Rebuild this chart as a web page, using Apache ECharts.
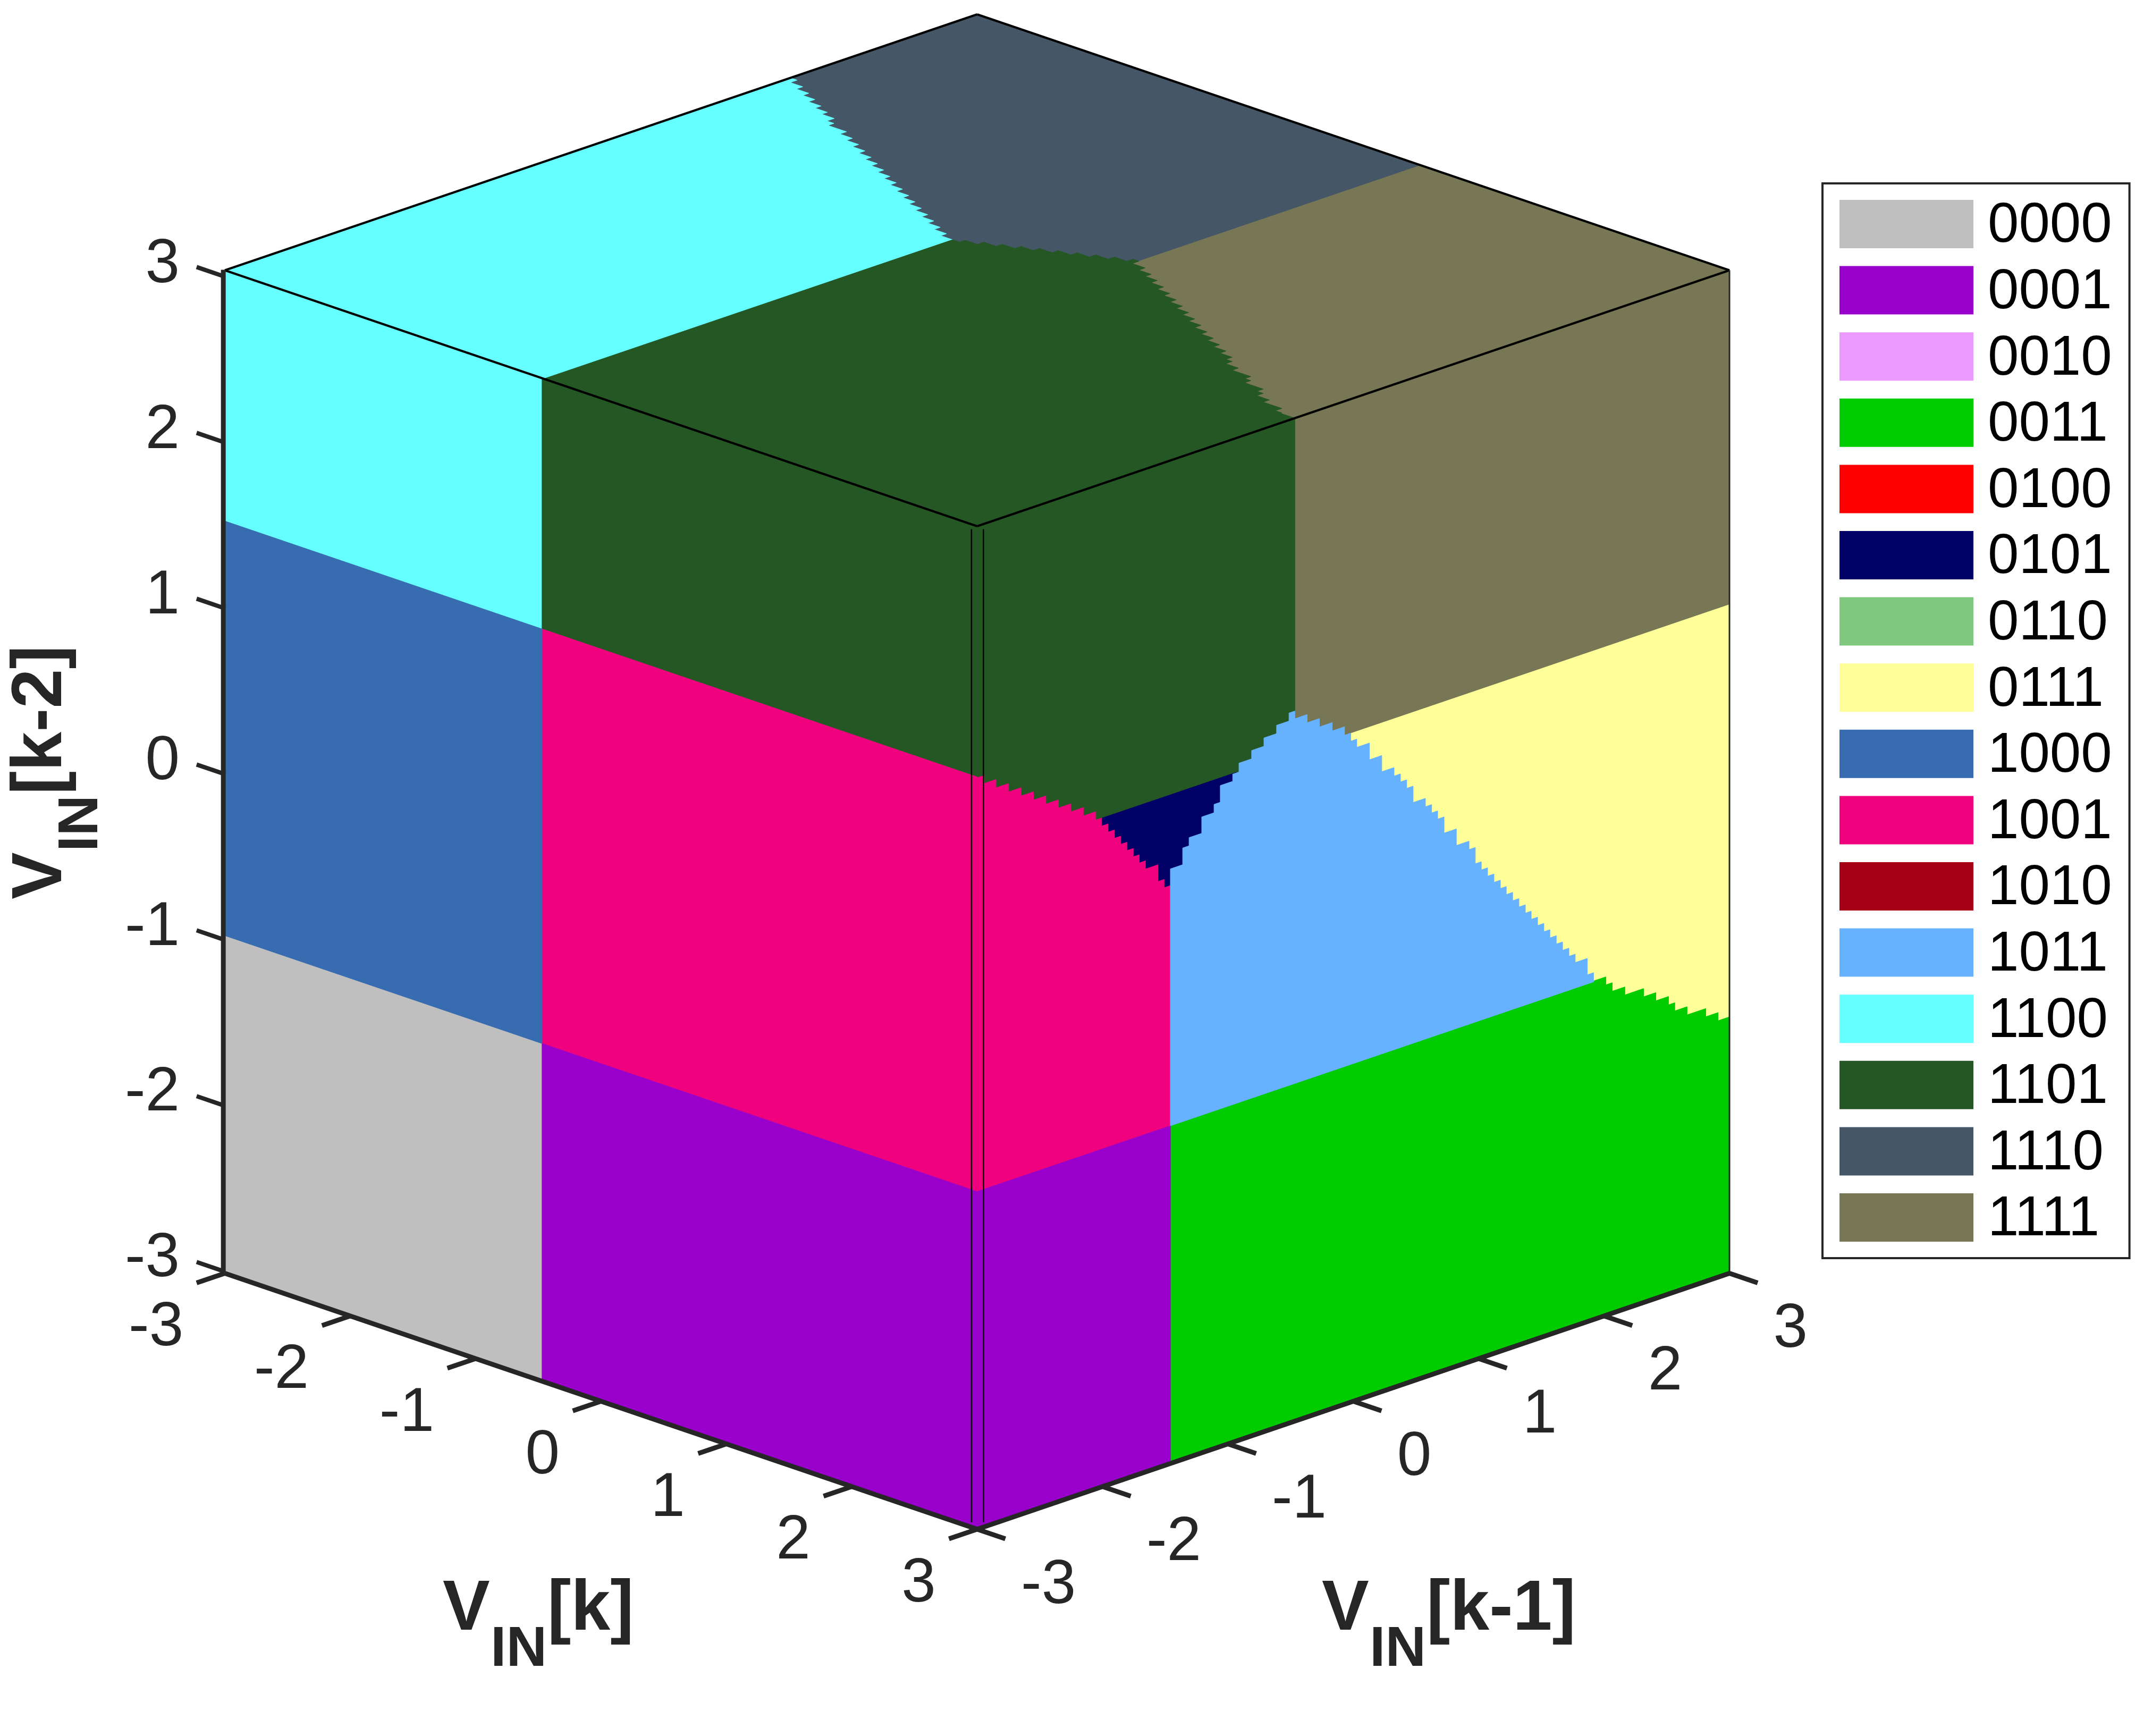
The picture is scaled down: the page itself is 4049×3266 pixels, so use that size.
<!DOCTYPE html>
<html>
<head>
<meta charset="utf-8">
<style>html,body{margin:0;padding:0;background:#fff}#c{width:4049px;height:3266px}</style>
<script src="https://cdn.jsdelivr.net/npm/echarts@6/dist/echarts.min.js"></script>
</head>
<body>
<div id="c"></div>
<script>
// ---------- data ----------
const categories = ['0000','0001','0010','0011','0100','0101','0110','0111','1000','1001','1010','1011','1100','1101','1110','1111'];
const palette = ['#BFBFBF','#9900CC','#EB99FF','#00CC00','#FF0000','#000066','#7FC97F','#FFFF99','#386CB0','#F0027F','#A60014','#66B2FF','#66FFFF','#255725','#455666','#777755'];
const kTicks = [-3,-2,-1,0,1,2,3];
const k1Ticks = [-3,-2,-1,0,1,2,3];
const k2Ticks = [-3,-2,-1,0,1,2,3];

// thresholds read from the faces
const leftSplitK = -0.47;          // V[k] split on the left face
const k2High = 1.5, k2Low = -0.98; // V[k-2] bands
const rightSplitK1 = -1.459;       // V[k-1] split low on the right face
const greenOliveK1 = -0.466;       // dark green / olive on the right face
const yellowStartK1 = -0.02;
const upperK2 = 1.0;               // olive/yellow and dark green/navy
const navyLeft = -2.007, navyRight = -0.93, navyBottom = 0.4;
const slateOliveK = 0.539, cyanGreenK = -0.456;

// right face staircases: [V[k-1] column start, V[k-2] level]
const pinkStairs = [[-3,1.495],[-2.944,1.447],[-2.85,1.397],[-2.749,1.347],[-2.65,1.297],[-2.551,1.247],[-2.452,1.198],[-2.352,1.149],[-2.253,1.101],[-2.153,1.051],[-2.054,1.001],[-2.007,.953],[-1.957,.904],[-1.906,.854],[-1.856,.805],[-1.806,.755],[-1.755,.705],[-1.707,.656],[-1.658,.607],[-1.559,.507],[-1.509,.457]];
const blueStairs = [[-1.459,.557],[-1.361,.657],[-1.31,.706],[-1.209,.804],[-1.111,.854],[-1.061,.954],[-.962,.997],[-.912,1.05],[-.811,1.1],[-.713,1.15],[-.612,1.2],[-.513,1.248],[-.466,1.202],[-.368,1.153],[-.27,1.103],[-.168,1.053],[-.07,1.002],[-.02,.954],[.028,.905],[.129,.805],[.227,.708],[.325,.657],[.376,.609],[.426,.558],[.477,.46],[.575,.41],[.625,.36],[.673,.311],[.724,.214],[.822,.115],[.923,.065],[.973,-.033],[1.021,-.082],[1.071,-.132],[1.122,-.182],[1.173,-.232],[1.22,-.28],[1.271,-.33],[1.321,-.38],[1.372,-.43],[1.419,-.479],[1.47,-.529],[1.52,-.579],[1.568,-.628],[1.619,-.678],[1.669,-.728],[1.72,-.777],[1.77,-.827],[1.866,-.925]];
const blueStairsEnd = 1.916;
const greenStairs = [[1.916,-.975],[2.014,-1.023],[2.065,-1.074],[2.166,-1.122],[2.315,-1.171],[2.413,-1.22],[2.514,-1.27],[2.564,-1.319],[2.662,-1.368],[2.811,-1.417],[2.909,-1.466]];

// top face staircases: [V[k], V[k-1]] tooth tips
const cyanTips = [[-2.947,1.511],[-2.847,1.456],[-2.746,1.404],[-2.649,1.355],[-2.548,1.303],[-2.45,1.255],[-2.35,1.21],[-2.293,1.151],[-2.145,1.103],[-2.045,1.05],[-1.947,1.002],[-1.847,.952],[-1.747,.902],[-1.648,.853],[-1.548,.803],[-1.448,.753],[-1.349,.704],[-1.249,.654],[-1.149,.604],[-1.05,.555],[-.95,.505],[-.85,.456],[-.751,.406],[-.651,.357],[-.551,.307],[-.456,.26]];
const slateTips = [[-.456,.26],[-.4,.305],[-.304,.357],[-.205,.406],[-.106,.456],[-.007,.505],[.092,.555],[.193,.604],[.292,.654],[.392,.703],[.491,.752],[.539,.752]];
const oliveTips = [[.539,.752],[.642,.698],[.741,.647],[.838,.599],[.939,.548],[1.039,.497],[1.14,.448],[1.239,.398],[1.339,.348],[1.438,.298],[1.538,.248],[1.639,.195],[1.739,.146],[1.839,.096],[1.939,.046],[2.036,-.002],[2.086,-.052],[2.188,-.104],[2.337,-.154],[2.385,-.202],[2.534,-.252],[2.584,-.302],[2.685,-.354],[2.834,-.404],[2.886,-.456],[3,-.466]];

// ---------- polygons in data space ----------
const L = (a,c) => [a,-3,c];
const R = (b,c) => [3,b,c];
const T = (a,b) => [a,b,3];
const leftBox  = (a0,a1,c0,c1) => [L(a0,c0),L(a1,c0),L(a1,c1),L(a0,c1)];
const rightBox = (b0,b1,c0,c1) => [R(b0,c0),R(b1,c0),R(b1,c1),R(b0,c1)];
const topBox   = (a0,a1,b0,b1) => [T(a0,b0),T(a1,b0),T(a1,b1),T(a0,b1)];

function rightStairs(list, end) {
  const out = [];
  list.forEach((p,i) => {
    const next = i + 1 < list.length ? list[i+1][0] : end;
    out.push(R(p[0],p[1]), R(next,p[1]));
  });
  return out;
}
// tip -> move in V[k-1] first, then along V[k]
function tipsBThenA(list) {
  const out = [T(list[0][0],list[0][1])];
  for (let i = 1; i < list.length; i++) {
    out.push(T(list[i-1][0],list[i][1]), T(list[i][0],list[i][1]));
  }
  return out;
}
// tip -> move along V[k] first, then in V[k-1]
function tipsAThenB(list) {
  const out = [T(list[0][0],list[0][1])];
  for (let i = 1; i < list.length; i++) {
    out.push(T(list[i][0],list[i-1][1]), T(list[i][0],list[i][1]));
  }
  return out;
}

const regions = {
  '0000': [leftBox(-3,leftSplitK,-3,k2Low)],
  '0001': [leftBox(leftSplitK,3,-3,k2Low), rightBox(-3,rightSplitK1,-3,k2Low)],
  '0010': [],
  '0011': [[R(rightSplitK1,-3),R(rightSplitK1,k2Low),R(blueStairsEnd,k2Low)].concat(rightStairs(greenStairs,3),[R(3,-3)])],
  '0100': [],
  '0101': [rightBox(navyLeft,navyRight,navyBottom,upperK2)],
  '0110': [],
  '0111': [rightBox(yellowStartK1,3,-3,upperK2)],
  '1000': [leftBox(-3,leftSplitK,k2Low,k2High)],
  '1001': [leftBox(leftSplitK,3,k2Low,k2High), [R(-3,k2Low)].concat(rightStairs(pinkStairs,rightSplitK1),[R(rightSplitK1,k2Low)])],
  '1010': [],
  '1011': [[R(rightSplitK1,k2Low)].concat(rightStairs(blueStairs,blueStairsEnd),[R(blueStairsEnd,k2Low)])],
  '1100': [leftBox(-3,leftSplitK,k2High,3), [T(-3,-3),T(-3,cyanTips[0][1])].concat(tipsBThenA(cyanTips),[T(cyanGreenK,-3)])],
  '1101': [leftBox(leftSplitK,3,k2High,3), rightBox(-3,greenOliveK1,-3,3),
           [T(cyanGreenK,-3)].concat(tipsAThenB(slateTips),tipsBThenA(oliveTips),[T(3,-3)])],
  '1110': [topBox(-3,slateOliveK,-3,3)],
  '1111': [topBox(slateOliveK,3,-3,3), rightBox(greenOliveK1,3,-3,3)]
};
const stack = {'1110':1,'1111':1,'1101':2,'1100':2,'0111':3,'0101':3,'1001':4,'1011':4,'0011':4,'0001':5,'0000':5,'1000':5};

// ---------- oblique projection onto the two hidden axes ----------
const slant = 80.25 / 314.5;
const project = p => [p[0] + p[1], p[2] + (p[1] - p[0]) * slant];

const INK = '#262626', FONT = '"Liberation Sans", Arial, sans-serif', TICK_FONT = 116;

const seriesList = categories.map((code,i) => ({
  type: 'custom', name: code, coordinateSystem: 'cartesian2d', silent: true,
  z: stack[code] || 1, itemStyle: {color: palette[i]}, animation: false,
  data: (regions[code] || []).map((_,j) => [j]),
  renderItem(params, api) {
    const poly = regions[code][api.value(0)];
    const color = api.visual('color');
    return {type:'polygon', shape:{points: poly.map(p => api.coord(project(p)))},
            style:{fill:color, stroke:color, lineWidth:1}};
  }
}));

seriesList.push({
  type:'custom', name:'frame', coordinateSystem:'cartesian2d', silent:true, z:10, animation:false,
  data:[[0]],
  renderItem(params, api) {
    const P = p => api.coord(project(p));
    const line = (a,b,w,c) => ({type:'line', shape:{x1:P(a)[0],y1:P(a)[1],x2:P(b)[0],y2:P(b)[1]},
      style:{stroke:c,lineWidth:w,lineCap:'butt'}});
    const text = (s,p,align) => ({type:'text', x:P(p)[0], y:P(p)[1],
      style:{text:String(s), fontSize:TICK_FONT, fontFamily:FONT, fill:INK, align:align, verticalAlign:'middle'}});
    const kids = [];
    // top face outline
    kids.push(line([-3,-3,3],[-3,3,3],4,'#000'), line([-3,3,3],[3,3,3],4,'#000'),
              line([3,3,3],[3,-3,3],4,'#000'), line([3,-3,3],[-3,-3,3],4,'#000'));
    // double front edge
    kids.push(line([2.955,-3,-2.97],[2.955,-3,2.97],2.5,'#000'), line([3,-2.95,-2.97],[3,-2.95,2.97],2.5,'#000'));
    // right thin edge
    kids.push(line([3,3,-3],[3,3,3],3,INK));
    // axes
    kids.push(line([-3.012,-3,-3],[-3.012,-3,3],9,INK), line([-3,-3,-3],[3,-3,-3],9,INK), line([3,-3,-3],[3,3,-3],9,INK));
    kTicks.forEach(v => { kids.push(line([v,-3,-3],[v,-3.225,-3],9,INK), text(v,[v,-3.33,-3.245],'right')); });
    k1Ticks.forEach(v => { kids.push(line([3,v,-3],[3.225,v,-3],9,INK), text(v,[3.35,v,-3.25],'left')); });
    k2Ticks.forEach(v => {
      const t = (v+3)*0.992-2.99;
      kids.push(line([-3,-3,t],[-3.225,-3,t],8,INK), text(v,[-3.36,-3,(v+3)*0.991-3.008],'right'));
    });
    return {type:'group', children:kids};
  }
});

// axis titles: V, subscript IN, bracket
function title(x, y, rotation, bracket) {
  const big = 133, small = 106, mid = 0.35;
  const t = (s,lx,base,size) => ({type:'text', x:lx, y:base - mid*size,
    style:{text:s, fontSize:size, fontWeight:'bold', fontFamily:FONT, fill:INK, align:'left', verticalAlign:'middle'}});
  return {type:'group', x:x, y:y, rotation:rotation, silent:true,
    children:[t('V',0,0,big), t('IN',90,66,small), t(bracket,197,0,big)]};
}

const chart = echarts.init(document.getElementById('c'), null, {renderer:'canvas'});
chart.setOption({
  backgroundColor:'#fff', animation:false,
  grid:{left:423, right:4049-3254, top:27, bottom:3266-2877, containLabel:false, show:false},
  xAxis:{type:'value', min:-6, max:6, show:false},
  yAxis:{type:'value', min:-3-6*slant, max:3+6*slant, show:false},
  legend:{
    show:true, orient:'vertical', left:3429, top:345, data:categories, icon:'rect', selectedMode:false,
    itemWidth:252, itemHeight:91, itemGap:9.6, padding:[19,33,19,32],
    borderColor:INK, borderWidth:4, backgroundColor:'#fff',
    formatter:'{a|{name}}',
    textStyle:{fontSize:105, fontFamily:FONT, color:'#000',
      rich:{a:{fontSize:105, fontFamily:FONT, color:'#000', lineHeight:91, padding:[10,0,0,22]}}}
  },
  graphic:[ title(833,3076,0,'[k]'), title(2487,3076,0,'[k-1]'), title(125,1692,Math.PI/2,'[k-2]') ],
  series:seriesList
});
</script>
</body>
</html>
